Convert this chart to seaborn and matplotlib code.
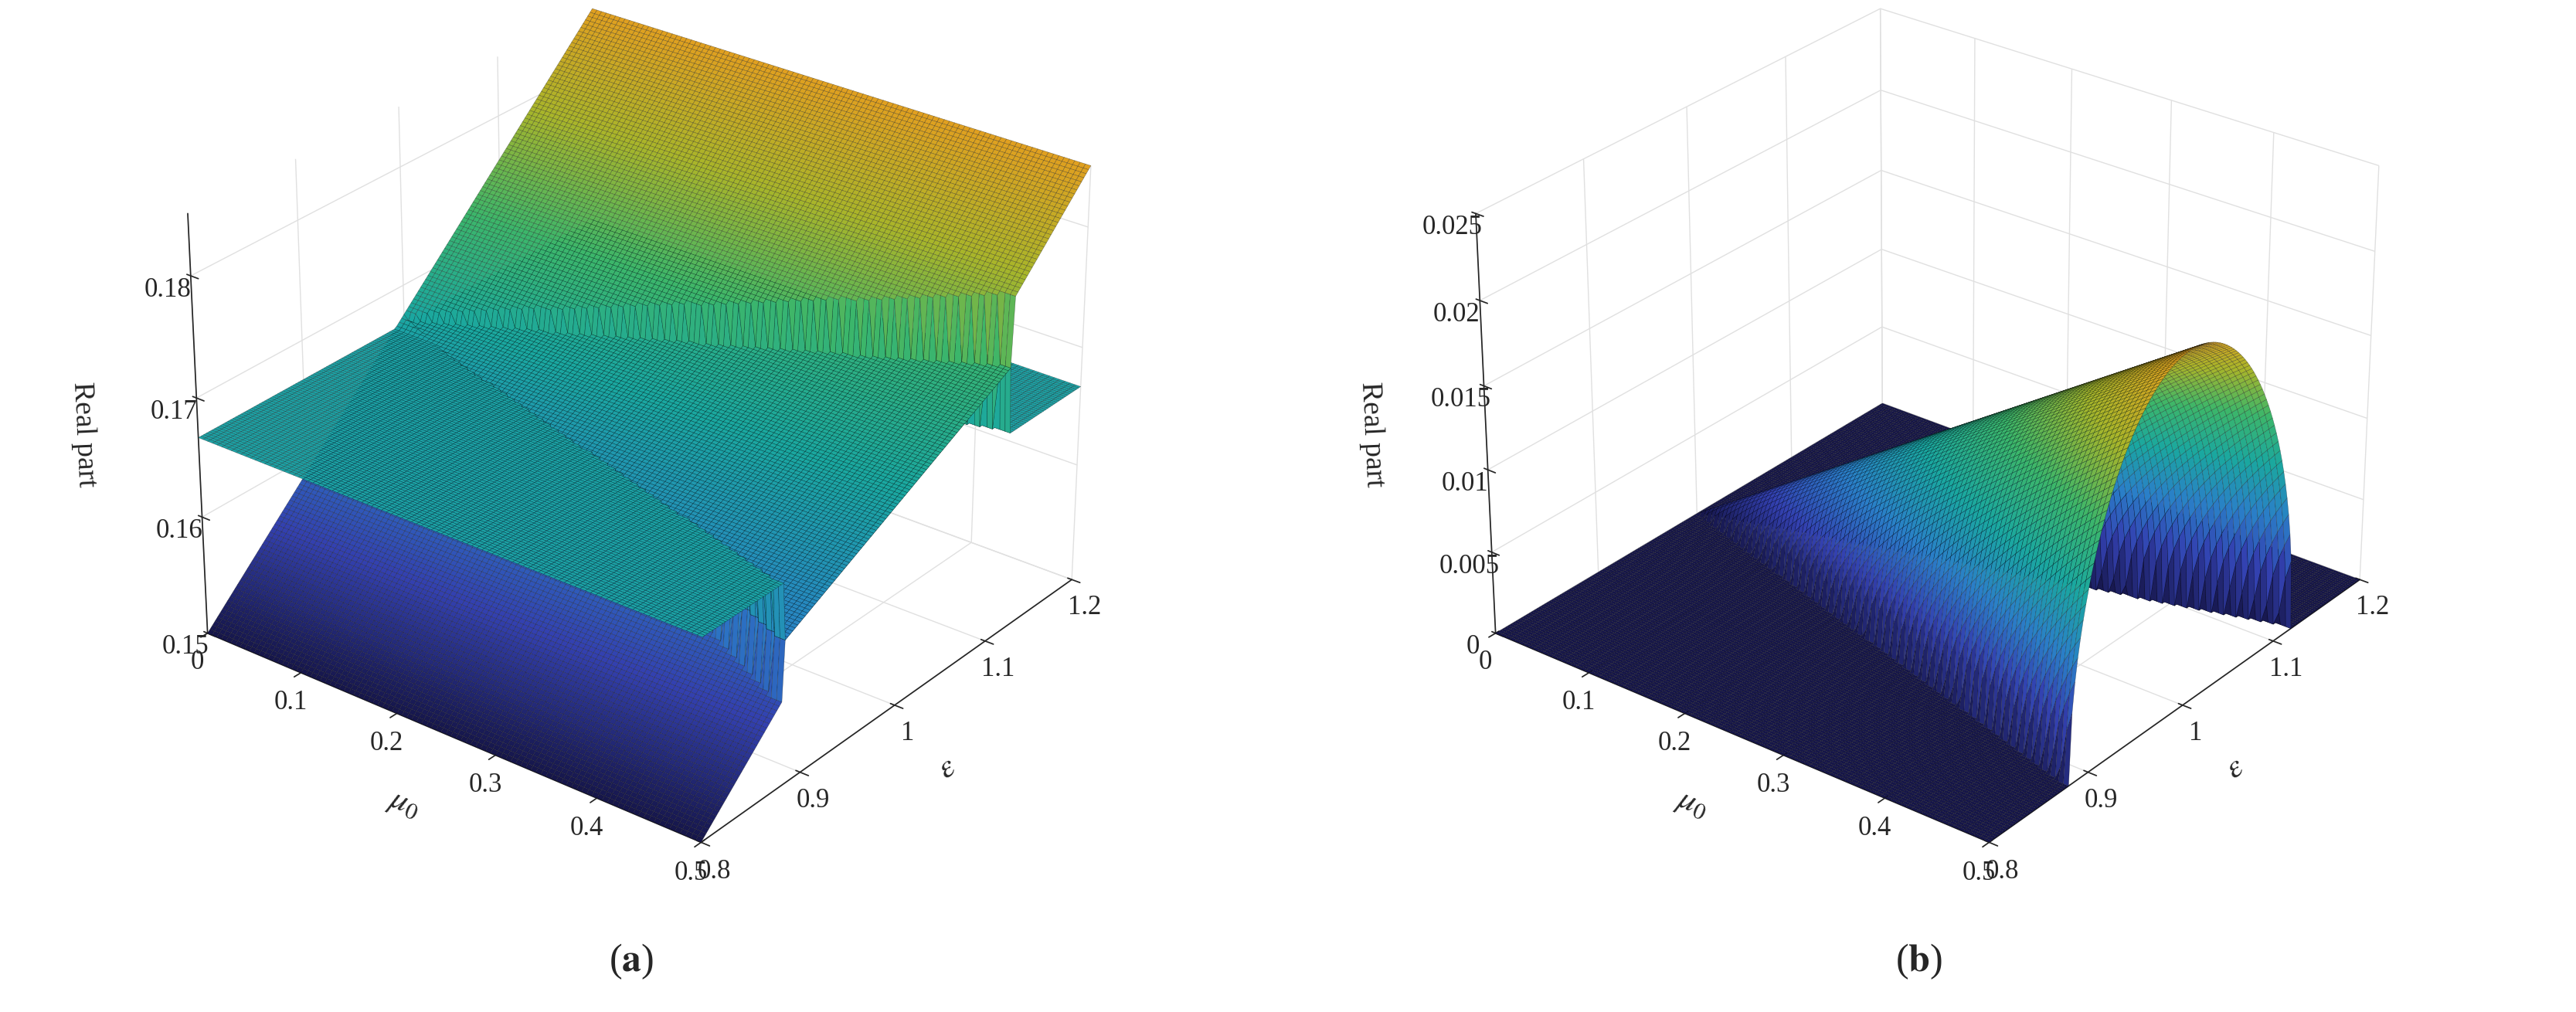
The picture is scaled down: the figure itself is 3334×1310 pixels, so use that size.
import numpy as np
import matplotlib
matplotlib.use("Agg")
import matplotlib.pyplot as plt
from matplotlib.colors import LinearSegmentedColormap
import seaborn as sns

sns.set_theme(style="white")
plt.rcParams['font.family'] = ['Liberation Serif', 'DejaVu Serif']
plt.rcParams['mathtext.fontset'] = 'stix'

# axis samples
mu0 = np.linspace(0.0, 0.5, 101)
eps = np.linspace(0.8, 1.2, 161)
mu0_ticks = [0, 0.1, 0.2, 0.3, 0.4, 0.5]
eps_ticks = [0.8, 0.9, 1.0, 1.1, 1.2]
za_ticks = [0.15, 0.16, 0.17, 0.18]
zb_ticks = [0, 0.005, 0.01, 0.015, 0.02, 0.025]

# read-off parameters
flat_level = 0.1667          # dark green sheet in (a)
slope_sheet = [0.150, 0.185]  # sloped sheet at eps = 0.8 and 1.2
tongue_width = 0.24           # half width of tongue per unit mu0
peak_growth = 0.021           # max growth rate at mu0 = 0.5

M, E = np.meshgrid(mu0, eps)
sloped = slope_sheet[0] + (E - 0.8) / 0.4 * (slope_sheet[1] - slope_sheet[0])
disc = (tongue_width * M) ** 2 - (E - 1.0) ** 2
growth = np.sqrt(np.clip(disc, 0, None))
growth = growth / (tongue_width * 0.5) * peak_growth
inside = disc > 0
mid = 0.5 * (flat_level + sloped)
upper = np.where(inside, mid, np.maximum(sloped, flat_level))
lower = np.where(inside, mid, np.minimum(sloped, flat_level))

cmap = LinearSegmentedColormap.from_list(
    "parula_like", ["#16164a", "#3340b0", "#2a7fc8", "#1aa7a0", "#3cb66a",
                    "#a8b52a", "#e0a020"])

fig = plt.figure(figsize=(33.34, 13.1), dpi=100)


def style(ax, zticks, zlim):
    ax.set_xlim(0, 0.5)
    ax.set_ylim(0.8, 1.2)
    ax.set_zlim(*zlim)
    ax.set_box_aspect(None, zoom=1.05)
    ax.set_xticks(mu0_ticks)
    ax.set_xticklabels([f"{v:g}" for v in mu0_ticks])
    ax.set_yticks(eps_ticks)
    ax.set_yticklabels([f"{v:g}" for v in eps_ticks])
    ax.set_zticks(zticks)
    ax.set_zticklabels([f"{v:g}" for v in zticks])
    ax.tick_params(labelsize=25)
    ax.set_xlabel(r"$\mu_0$", fontsize=31, labelpad=26)
    ax.set_ylabel(r"$\epsilon$", fontsize=31, labelpad=26)
    ax.set_zlabel("Real part", fontsize=27, labelpad=36)
    ax.zaxis._axinfo['juggled'] = (1, 2, 0)
    for a in (ax.xaxis, ax.yaxis, ax.zaxis):
        a.set_pane_color((1, 1, 1, 1))
        a._axinfo['grid']['color'] = (0.88, 0.88, 0.88, 1)
        a._axinfo['grid']['linewidth'] = 1.0
    ax.view_init(elev=28, azim=-52)


kw = dict(cmap=cmap, rcount=161, ccount=101, edgecolor=(0, 0, 0, 0.45),
          linewidth=0.35, antialiased=True)

ax1 = fig.add_axes([-0.005, 0.13, 0.5, 0.92], projection='3d')
ax1.plot_surface(M, E, lower, vmin=0.15, vmax=0.185, **kw)
ax1.plot_surface(M, E, upper, vmin=0.15, vmax=0.185, **kw)
style(ax1, za_ticks, (0.15, 0.185))

ax2 = fig.add_axes([0.495, 0.13, 0.5, 0.92], projection='3d')
ax2.plot_surface(M, E, growth, vmin=0, vmax=0.021, **kw)
style(ax2, zb_ticks, (0, 0.025))

fig.text(0.245, 0.04, r"($\mathbf{a}$)", fontsize=36, ha='center')
fig.text(0.745, 0.04, r"($\mathbf{b}$)", fontsize=36, ha='center')

fig.savefig("out.png", dpi=100)
